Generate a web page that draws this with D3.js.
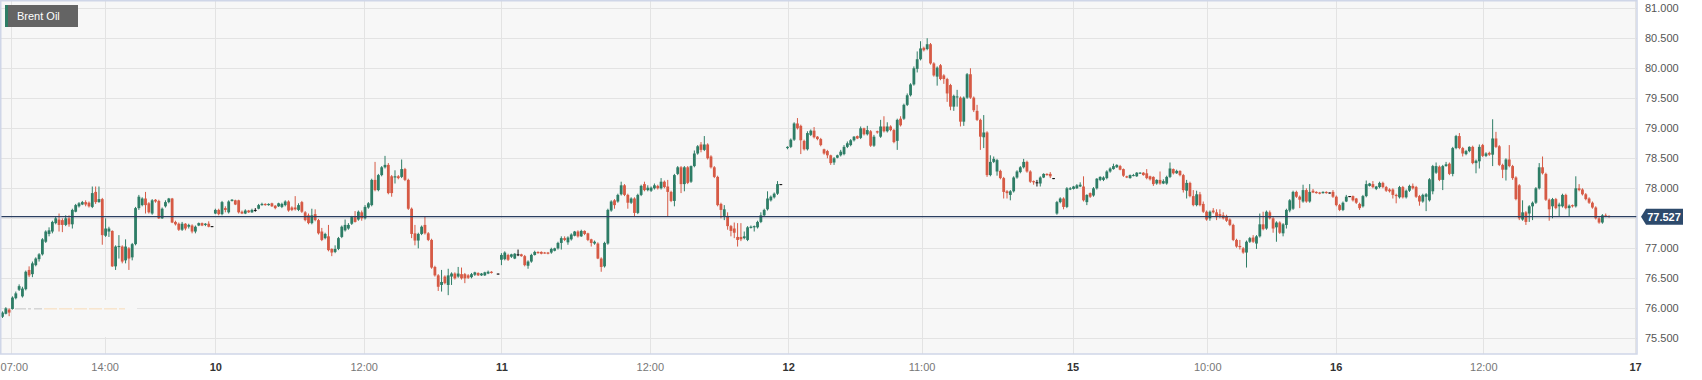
<!DOCTYPE html>
<html>
<head>
<meta charset="utf-8">
<script src="https://cdn.jsdelivr.net/npm/d3@7"></script>
<style>
  body { margin: 0; background: #fff; }
  svg { display: block; font-family: "Liberation Sans", Arial, Helvetica, sans-serif; }
</style>
</head>
<body>
<div id="chart"></div>
<script>
// 15 minute candles, [open, high, low, close], null = no trade in that slot
const day09 = [
  [75.86,75.95,75.84,75.93],[75.91,76.02,75.90,76.00],[75.98,76.00,75.87,75.93],[75.99,76.20,75.98,76.18],
  [76.17,76.28,76.15,76.25],[76.31,76.40,76.29,76.37],[76.20,76.36,76.18,76.33],[76.32,76.63,76.30,76.61],
  [76.64,76.70,76.52,76.55],[76.57,76.78,76.52,76.75],[76.72,76.85,76.70,76.83],[76.82,76.92,76.78,76.90],
  [76.90,77.17,76.88,77.15],[77.11,77.30,77.09,77.28],[77.24,77.35,77.20,77.30],[77.28,77.46,77.25,77.44],
  [77.42,77.53,77.40,77.50],[77.48,77.58,77.28,77.39],[77.47,77.50,77.27,77.39],[77.39,77.55,77.37,77.50],
  [77.50,77.55,77.36,77.40],[77.40,77.66,77.33,77.64],[77.61,77.74,77.60,77.72],[77.70,77.77,77.68,77.75],
  [77.73,77.79,77.72,77.77],[77.77,77.80,77.70,77.73],[77.76,77.78,77.68,77.70],[77.69,78.03,77.67,77.92],
  [77.94,78.03,77.74,77.77],[77.77,78.03,77.76,77.82],[77.82,77.84,77.06,77.22],[77.21,77.50,77.19,77.33],
  [77.28,77.36,77.19,77.33],[77.29,77.30,76.69,76.70],[76.70,77.05,76.64,77.03],[77.02,77.22,76.83,77.04],
  [77.03,77.05,76.75,76.78],[76.80,77.15,76.75,77.03],[77.00,77.02,76.64,76.83],[76.85,77.09,76.80,77.07],
  [77.07,77.69,77.05,77.67],[77.67,77.89,77.64,77.86],[77.72,77.85,77.70,77.83],[77.83,77.94,77.58,77.72],
  [77.75,77.77,77.58,77.60],[77.58,77.82,77.56,77.80],[77.81,77.82,77.76,77.78],[77.79,77.81,77.49,77.50],
  [77.50,77.68,77.49,77.66],[77.70,77.80,77.68,77.77],[77.77,77.84,77.75,77.83],[77.83,77.84,77.42,77.43],
  [77.44,77.46,77.38,77.40],[77.41,77.43,77.29,77.31],[77.31,77.44,77.29,77.41],[77.41,77.42,77.30,77.33],
  [77.36,77.41,77.33,77.39],[77.38,77.40,77.25,77.28],[77.28,77.38,77.25,77.36],[77.38,77.43,77.37,77.42],
  [77.42,77.43,77.37,77.38],[77.39,77.42,77.37,77.41],[77.41,77.45,77.35,77.36],[77.37,77.37,77.37,77.37]
];
const day10 = [
  [77.58,77.66,77.57,77.64],[77.64,77.66,77.55,77.57],[77.57,77.79,77.55,77.77],[77.67,77.70,77.60,77.64],
  [77.60,77.80,77.58,77.78],[77.79,77.82,77.78,77.81],[77.80,77.81,77.72,77.73],[77.80,77.81,77.58,77.60],
  [77.61,77.63,77.57,77.58],[77.58,77.65,77.57,77.63],[77.63,77.64,77.59,77.60],[77.60,77.66,77.59,77.64],
  [77.64,77.67,77.61,77.64],[77.66,77.74,77.65,77.72],[77.72,77.76,77.71,77.74],[77.74,77.75,77.71,77.72],
  [77.72,77.75,77.71,77.74],[77.75,77.76,77.69,77.70],[77.71,77.72,77.65,77.67],[77.70,77.76,77.69,77.75],
  [77.69,77.76,77.67,77.74],[77.72,77.80,77.70,77.78],[77.78,77.80,77.61,77.63],[77.68,77.70,77.62,77.64],
  [77.68,77.87,77.63,77.65],[77.64,77.75,77.62,77.72],[77.77,77.79,77.59,77.61],[77.60,77.62,77.45,77.47],
  [77.55,77.58,77.40,77.42],[77.42,77.66,77.40,77.55],[77.57,77.65,77.45,77.47],[77.47,77.49,77.23,77.25],
  [77.28,77.34,77.12,77.14],[77.17,77.26,77.15,77.24],[77.20,77.39,76.95,76.97],[76.99,77.00,76.87,76.93],
  [76.94,77.05,76.92,76.99],[76.99,77.19,76.97,77.17],[77.19,77.38,77.17,77.36],[77.30,77.48,77.28,77.39],
  [77.33,77.42,77.31,77.39],[77.41,77.54,77.39,77.52],[77.52,77.62,77.43,77.44],[77.48,77.63,77.46,77.61],
  [77.60,77.63,77.46,77.50],[77.50,77.72,77.48,77.69],[77.68,77.77,77.66,77.75],[77.72,78.16,77.70,78.14],
  [78.14,78.44,77.95,77.97],[77.97,78.24,77.95,78.22],[78.22,78.37,78.20,78.35],[78.35,78.54,78.33,78.39],
  [78.39,78.42,77.90,77.92],[78.20,78.22,77.86,77.92],[78.18,78.30,78.08,78.20],[78.20,78.22,78.15,78.17],
  [78.19,78.48,78.17,78.32],[78.32,78.34,78.12,78.14],[78.14,78.16,77.64,77.66],[77.66,77.68,77.17,77.24],
  [77.25,77.39,77.05,77.13],[77.13,77.26,77.00,77.24],[77.24,77.38,77.22,77.36],[77.39,77.53,77.23,77.25],
  [77.25,77.27,77.12,77.14],[77.14,77.16,76.66,76.68],[76.69,76.71,76.53,76.55],[76.55,76.57,76.29,76.36],
  [76.39,76.64,76.28,76.44],[76.53,76.55,76.40,76.42],[76.39,76.66,76.22,76.55],[76.53,76.60,76.39,76.58],
  [76.58,76.60,76.48,76.50],[76.53,76.69,76.51,76.58],[76.57,76.68,76.48,76.50],[76.57,76.59,76.42,76.50],
  [76.55,76.57,76.49,76.51],[76.52,76.59,76.50,76.57],[76.56,76.61,76.54,76.60],[76.59,76.60,76.54,76.55],
  [76.55,76.59,76.54,76.58],[76.55,76.61,76.54,76.60],[76.58,76.63,76.57,76.61],[76.61,76.62,76.58,76.59],
  null,[76.58,76.58,76.58,76.58]
];
const day11 = [
  [76.81,76.92,76.72,76.89],[76.82,76.95,76.80,76.93],[76.89,76.91,76.79,76.81],[76.86,76.91,76.84,76.90],
  [76.83,76.92,76.82,76.91],[76.90,76.98,76.87,76.90],[76.90,76.91,76.86,76.87],[76.87,76.89,76.70,76.72],
  [76.71,76.80,76.66,76.78],[76.78,76.91,76.76,76.89],[76.89,76.96,76.88,76.94],[76.94,76.95,76.91,76.92],
  [76.94,76.95,76.90,76.91],[76.93,76.94,76.91,76.92],[76.93,76.94,76.90,76.91],[76.93,77.01,76.91,76.99],
  [76.96,77.01,76.95,77.00],[77.00,77.11,76.98,77.09],[77.09,77.20,76.98,77.17],[77.17,77.20,77.12,77.14],
  [77.10,77.20,77.06,77.18],[77.15,77.25,77.13,77.23],[77.21,77.29,77.20,77.28],[77.28,77.30,77.18,77.20],
  [77.20,77.31,77.19,77.29],[77.29,77.30,77.22,77.24],[77.25,77.26,77.12,77.14],[77.15,77.16,77.03,77.09],
  [77.08,77.13,77.06,77.11],[77.08,77.10,76.82,76.83],[76.83,76.85,76.61,76.69],[76.70,77.11,76.68,77.09],
  [77.08,77.66,77.06,77.64],[77.63,77.80,77.61,77.78],[77.80,77.82,77.66,77.72],[77.78,77.91,77.76,77.89],
  [77.90,78.11,77.88,78.05],[78.05,78.07,77.87,77.89],[77.89,77.91,77.66,77.76],[77.76,77.85,77.74,77.83],
  [77.83,77.85,77.53,77.59],[77.59,77.91,77.57,77.89],[77.89,78.06,77.87,78.04],[78.07,78.11,77.95,77.97],
  [77.97,78.05,77.95,78.01],[77.96,78.03,77.94,78.01],[78.00,78.08,77.98,78.05],[78.04,78.06,77.98,78.00],
  [78.00,78.17,77.98,78.11],[78.11,78.13,78.00,78.02],[78.03,78.14,77.53,77.94],[77.94,77.96,77.77,77.79],
  [77.79,78.24,77.70,78.22],[78.24,78.37,78.22,78.35],[78.35,78.37,77.92,78.07],[78.07,78.37,77.95,78.35],
  [78.35,78.37,78.07,78.09],[78.11,78.38,78.09,78.37],[78.37,78.63,78.35,78.58],[78.58,78.72,78.56,78.70],
  [78.73,78.77,78.60,78.64],[78.64,78.87,78.62,78.73],[78.73,78.75,78.48,78.50],[78.53,78.55,78.33,78.35],
  [78.35,78.37,78.17,78.19],[78.19,78.21,77.70,77.72],[77.74,77.76,77.50,77.64],[77.54,77.72,77.47,77.65],
  [77.54,77.60,77.31,77.37],[77.37,77.39,77.20,77.29],[77.33,77.43,77.17,77.26],[77.19,77.42,77.03,77.14],
  [77.19,77.42,77.12,77.15],[77.17,77.28,77.15,77.20],[77.14,77.37,77.12,77.35],[77.34,77.38,77.33,77.36],
  [77.35,77.38,77.28,77.37],[77.35,77.46,77.33,77.44],[77.44,77.60,77.42,77.55],[77.55,77.66,77.53,77.64],
  [77.65,77.95,77.63,77.83],[77.80,77.88,77.78,77.86],[77.85,77.93,77.83,77.91],[77.91,78.12,77.89,78.07],
  [78.07,78.07,78.07,78.07],null
];
const day12 = [
  [78.67,78.70,78.65,78.69],[78.69,78.83,78.67,78.81],[78.81,79.10,78.79,79.08],[79.08,79.17,78.98,79.00],
  [79.04,79.06,78.57,78.80],[78.79,78.81,78.63,78.65],[78.65,78.95,78.63,78.92],[78.89,78.98,78.87,78.96],
  [78.96,79.02,78.83,78.85],[78.86,78.87,78.80,78.82],[78.82,78.84,78.70,78.72],[78.65,78.66,78.56,78.58],
  [78.62,78.64,78.50,78.55],[78.55,78.56,78.39,78.42],[78.43,78.52,78.39,78.50],[78.51,78.56,78.50,78.55],
  [78.55,78.64,78.53,78.61],[78.57,78.72,78.55,78.69],[78.69,78.78,78.67,78.75],[78.72,78.82,78.70,78.80],
  [78.80,78.87,78.78,78.86],[78.87,78.88,78.82,78.83],[78.84,79.03,78.82,79.00],[79.00,79.01,78.88,78.90],
  [78.90,79.04,78.88,78.97],[78.95,78.97,78.69,78.71],[78.71,78.89,78.69,78.86],[78.95,78.96,78.91,78.93],
  [78.86,79.14,78.84,79.03],[79.03,79.20,78.93,78.95],[78.95,79.10,78.93,79.03],[79.03,79.05,78.95,78.97],
  [78.97,78.99,78.75,78.77],[78.79,79.16,78.64,79.14],[79.16,79.20,79.03,79.05],[79.16,79.41,79.14,79.39],
  [79.39,79.58,79.37,79.55],[79.55,79.75,79.53,79.73],[79.73,80.03,79.71,80.00],[79.99,80.28,79.93,80.15],
  [80.15,80.45,80.13,80.33],[80.34,80.36,80.28,80.30],[80.32,80.50,80.30,80.40],[80.40,80.42,80.06,80.08],
  [80.08,80.10,79.86,79.88],[79.86,80.03,79.71,80.01],[80.05,80.07,79.80,79.82],[79.88,79.90,79.74,79.82],
  [79.82,79.84,79.44,79.58],[79.72,79.74,79.30,79.36],[79.36,79.56,79.29,79.54],[79.52,79.64,79.36,79.53],
  [79.51,79.53,79.03,79.11],[79.11,79.53,79.04,79.51],[79.51,79.92,79.49,79.90],[79.90,80.00,79.49,79.51],
  [79.51,79.53,79.27,79.30],[79.29,79.39,79.12,79.14],[79.14,79.16,78.64,78.86],[78.85,79.22,78.67,78.93],
  [78.93,78.95,78.19,78.22],[78.22,78.55,78.20,78.44],[78.44,78.53,78.42,78.49],[78.28,78.49,78.21,78.47],
  [78.29,78.31,78.15,78.17],[78.17,78.19,77.83,77.94],[77.95,77.97,77.83,77.92],[77.89,77.97,77.80,77.95],
  [77.95,78.20,77.93,78.18],[78.18,78.30,78.16,78.28],[78.27,78.37,78.25,78.35],[78.35,78.49,78.33,78.44],
  [78.44,78.46,78.26,78.28],[78.28,78.30,78.09,78.11],[78.12,78.13,78.06,78.10],[78.10,78.14,78.03,78.10],
  [78.08,78.20,78.03,78.18],[78.18,78.25,78.17,78.24],[78.24,78.25,78.21,78.22],[78.24,78.27,78.17,78.20],
  [78.17,78.17,78.17,78.17]
];
const day15 = [
  [77.58,77.79,77.56,77.77],[77.77,77.85,77.75,77.83],[77.83,77.85,77.65,77.69],[77.69,78.02,77.67,78.00],
  [77.98,78.02,77.97,78.00],[77.99,78.04,77.98,78.03],[78.00,78.07,77.99,78.05],[78.03,78.10,78.02,78.06],
  [78.03,78.20,77.78,77.80],[77.77,77.90,77.72,77.89],[77.92,77.93,77.84,77.86],[77.88,78.02,77.86,78.00],
  [78.00,78.17,77.98,78.16],[78.14,78.20,78.12,78.19],[78.14,78.20,78.12,78.18],[78.17,78.30,78.15,78.28],
  [78.28,78.35,78.26,78.33],[78.32,78.41,78.31,78.37],[78.35,78.40,78.34,78.39],[78.37,78.39,78.30,78.31],
  [78.32,78.33,78.19,78.21],[78.20,78.21,78.17,78.18],[78.17,78.23,78.16,78.22],[78.21,78.24,78.20,78.22],
  [78.20,78.27,78.19,78.26],[78.25,78.27,78.24,78.26],[78.26,78.27,78.21,78.22],[78.25,78.32,78.15,78.17],
  [78.20,78.21,78.13,78.15],[78.19,78.20,78.04,78.07],[78.08,78.15,78.06,78.14],[78.14,78.28,78.06,78.08],
  [78.08,78.15,78.07,78.12],[78.08,78.21,78.06,78.19],[78.19,78.43,78.17,78.33],[78.32,78.33,78.23,78.25],
  [78.25,78.31,78.24,78.29],[78.29,78.30,78.20,78.22],[78.22,78.24,77.93,77.97],[77.96,78.14,77.83,78.09],
  [78.09,78.11,77.85,77.87],[77.87,77.97,77.70,77.72],[77.72,77.96,77.70,77.90],[77.90,77.94,77.70,77.72],
  [77.74,77.78,77.59,77.61],[77.61,77.63,77.46,77.48],[77.50,77.63,77.46,77.61],[77.63,77.67,77.58,77.60],
  [77.60,77.65,77.47,77.52],[77.57,77.65,77.50,77.54],[77.55,77.60,77.48,77.50],[77.54,77.56,77.44,77.46],
  [77.48,77.50,77.37,77.39],[77.39,77.41,77.12,77.14],[77.14,77.16,77.01,77.03],[77.04,77.14,76.98,77.02],
  [77.00,77.02,76.91,76.93],[76.93,77.13,76.68,77.11],[77.11,77.19,77.09,77.17],[77.18,77.22,77.09,77.11],
  [77.08,77.22,76.99,77.20],[77.20,77.58,77.18,77.40],[77.40,77.61,77.30,77.32],[77.33,77.63,77.31,77.61],
  [77.60,77.63,77.48,77.50],[77.50,77.52,77.26,77.33],[77.35,77.45,77.11,77.43],[77.43,77.45,77.24,77.26],
  [77.25,77.42,77.20,77.40],[77.39,77.66,77.33,77.64],[77.63,77.82,77.60,77.80],[77.66,77.96,77.64,77.94],
  [77.94,77.96,77.84,77.86],[77.86,77.88,77.67,77.81],[77.78,78.06,77.76,77.97],[77.97,78.00,77.76,77.78],
  [77.78,78.07,77.76,77.94],[77.96,77.99,77.92,77.93],[77.94,77.95,77.91,77.92],[77.93,77.94,77.90,77.91],
  [77.92,77.95,77.91,77.94],[77.94,77.95,77.91,77.92],[77.93,77.93,77.93,77.93],[77.94,77.97,77.84,77.86]
];
const day16 = [
  [77.86,77.88,77.70,77.72],[77.72,77.74,77.62,77.64],[77.64,77.78,77.62,77.76],[77.78,77.89,77.77,77.86],
  [77.87,77.87,77.87,77.87],[77.87,77.88,77.78,77.80],[77.83,77.84,77.74,77.76],[77.74,77.76,77.64,77.67],
  [77.70,77.89,77.68,77.87],[77.87,78.13,77.85,78.07],[78.04,78.09,78.03,78.08],[78.07,78.12,78.00,78.02],
  [77.99,78.04,77.97,78.03],[78.02,78.11,78.00,78.09],[78.09,78.11,78.00,78.02],[78.02,78.04,77.94,77.96],
  [77.98,78.00,77.93,77.95],[77.98,78.00,77.83,77.89],[77.89,77.91,77.75,77.87],[77.85,78.04,77.83,78.02],
  [78.02,78.04,77.83,77.85],[77.85,77.98,77.83,77.96],[77.96,78.06,77.94,78.04],[78.04,78.08,77.98,78.00],
  [78.02,78.04,77.84,77.86],[77.87,77.89,77.71,77.78],[77.78,77.91,77.76,77.89],[77.86,77.92,77.62,77.90],
  [77.80,78.17,77.78,78.15],[77.95,78.39,77.90,78.37],[78.26,78.43,78.24,78.37],[78.36,78.38,78.12,78.14],
  [78.14,78.39,77.97,78.37],[78.37,78.44,78.36,78.40],[78.41,78.43,78.22,78.24],[78.24,78.69,78.20,78.67],
  [78.67,78.89,78.65,78.87],[78.87,78.92,78.65,78.67],[78.67,78.69,78.53,78.58],[78.57,78.64,78.55,78.62],
  [78.62,78.70,78.60,78.69],[78.69,78.71,78.40,78.42],[78.42,78.48,78.25,78.46],[78.45,78.73,78.33,78.69],
  [78.72,78.74,78.52,78.54],[78.54,78.60,78.52,78.58],[78.59,78.61,78.54,78.56],[78.56,79.15,78.37,78.83],
  [78.83,78.94,78.67,78.69],[78.70,78.72,78.37,78.39],[78.39,78.41,78.17,78.31],[78.31,78.50,78.13,78.48],
  [78.48,78.72,78.35,78.37],[78.37,78.39,78.14,78.17],[78.18,78.20,77.80,77.82],[78.05,78.07,77.47,77.50],
  [77.48,77.80,77.46,77.60],[77.60,77.62,77.39,77.44],[77.58,77.72,77.44,77.70],[77.70,77.78,77.47,77.76],
  [77.76,78.02,77.74,78.00],[78.00,78.42,77.98,78.35],[78.35,78.53,78.23,78.25],[78.24,78.26,77.79,77.81],
  [77.81,77.83,77.46,77.65],[77.70,77.84,77.50,77.82],[77.82,77.84,77.65,77.67],[77.70,77.76,77.53,77.73],
  [77.70,77.91,77.68,77.89],[77.89,77.91,77.65,77.67],[77.67,77.73,77.53,77.71],[77.72,77.73,77.68,77.70],
  [77.70,78.20,77.68,78.00],[78.00,78.07,77.95,77.97],[77.98,78.00,77.88,77.90],[77.90,77.92,77.80,77.82],
  [77.83,77.85,77.74,77.76],[77.76,77.78,77.66,77.68],[77.68,77.70,77.48,77.50],[77.50,77.52,77.41,77.43],
  [77.43,77.57,77.41,77.55],[77.55,77.58,77.52,77.53],[77.54,77.55,77.51,77.53]
];

const tickLabels = ["07:00","14:00","10","12:00","11","12:00","12","11:00","15","10:00","16","12:00","17"];
const tickSlots  = [2.5, 30.7, 64, 108.6, 150, 194.6, 236.2, 276.3, 321.7, 362.2, 400.8, 445.2, 490.8];
const dayTicks   = ["10","11","12","15","16","17"];
const priceTicks = [75.5,76,76.5,77,77.5,78,78.5,79,79.5,80,80.5,81];
const lastPrice = 77.527;
const seriesName = "Brent Oil";

const W = 1702, H = 380;
const plotW = 1637, plotH = 354;
const upColor = "#2e7d66", downColor = "#d65a45";

// flatten days into one slot sequence
const candles = [];
let slot = 0;
[day09, day10, day11, day12, day15, day16].forEach(day => {
  day.forEach(c => {
    if (c) candles.push({slot: slot, o: c[0], h: c[1], l: c[2], c: c[3]});
    slot++;
  });
});

const svg = d3.select("#chart").append("svg")
  .attr("width", W)
  .attr("height", H);

const x = d3.scaleLinear().domain([-0.75, 491.4]).range([0, plotW]);
const y = d3.scaleLinear().domain([75.24, 81.12]).range([plotH, 1]);

svg.append("rect")
  .attr("x", 0).attr("y", 0)
  .attr("width", plotW).attr("height", plotH)
  .attr("fill", "#f7f7f7");

// grid
svg.append("g").selectAll("line").data(priceTicks).enter().append("line")
  .attr("x1", 0).attr("x2", plotW)
  .attr("y1", d => Math.round(y(d)) + 0.5).attr("y2", d => Math.round(y(d)) + 0.5)
  .attr("stroke", "#e3e3e3");

svg.append("g").selectAll("line").data(tickSlots).enter().append("line")
  .attr("x1", d => Math.round(x(d)) + 0.5).attr("x2", d => Math.round(x(d)) + 0.5)
  .attr("y1", 0).attr("y2", plotH)
  .attr("stroke", "#e3e3e3");

// leftover dashed marker bottom left
svg.append("rect")
  .attr("x", 12).attr("y", 300).attr("width", 125).attr("height", 37)
  .attr("fill", "#f7f7f7");
svg.append("line")
  .attr("x1", 15).attr("x2", 42).attr("y1", y(76) + 0.5).attr("y2", y(76) + 0.5)
  .attr("stroke", "#c4c4c4").attr("stroke-dasharray", "11,2,3,3");
svg.append("line")
  .attr("x1", 44).attr("x2", 125).attr("y1", y(76) + 0.5).attr("y2", y(76) + 0.5)
  .attr("stroke", "#f8dcb8").attr("stroke-dasharray", "13,2");

// candles
const cg = svg.append("g");
const col = d => d.c > d.o ? upColor : (d.c < d.o ? downColor : "#111");

cg.selectAll("line").data(candles).enter().append("line")
  .attr("x1", d => x(d.slot)).attr("x2", d => x(d.slot))
  .attr("y1", d => y(d.h)).attr("y2", d => Math.max(y(d.l), y(d.h) + 1))
  .attr("stroke", col)
  .attr("stroke-width", 1);

cg.selectAll("rect").data(candles).enter().append("rect")
  .attr("x", d => x(d.slot) - 1.4)
  .attr("width", 2.8)
  .attr("y", d => y(Math.max(d.o, d.c)))
  .attr("height", d => Math.max(1, Math.abs(y(d.o) - y(d.c))))
  .attr("fill", col);

// last price line
svg.append("line")
  .attr("x1", 0).attr("x2", plotW)
  .attr("y1", y(lastPrice)).attr("y2", y(lastPrice))
  .attr("stroke", "#2b3f61").attr("stroke-width", 1.3);

// frame
svg.append("rect")
  .attr("x", 0.75).attr("y", 0.75)
  .attr("width", plotW - 0.75).attr("height", plotH - 0.75)
  .attr("fill", "none")
  .attr("stroke", "#cfd6e8").attr("stroke-width", 1.5);

// y axis
const yAxis = svg.append("g")
  .attr("transform", `translate(${plotW},0)`)
  .call(d3.axisRight(y).tickValues(priceTicks).tickFormat(d3.format(".3f")).tickSize(0).tickPadding(8));
yAxis.select(".domain").remove();
yAxis.selectAll("text")
  .attr("fill", "#555")
  .style("font-size", "11px")
  .style("font-family", "'Liberation Sans', Arial, sans-serif");

// x axis
const xAxis = svg.append("g")
  .attr("transform", `translate(0,${plotH})`)
  .call(d3.axisBottom(x).tickValues(tickSlots).tickFormat((d, i) => tickLabels[i]).tickSize(0).tickPadding(9));
xAxis.select(".domain").remove();
xAxis.selectAll("text")
  .style("font-size", "11px")
  .style("font-family", "'Liberation Sans', Arial, sans-serif")
  .attr("fill", (d, i) => dayTicks.includes(tickLabels[i]) ? "#333" : "#777")
  .style("font-weight", (d, i) => dayTicks.includes(tickLabels[i]) ? "bold" : "normal")
  .each(function(d) {
    const half = this.getComputedTextLength() / 2;
    if (x(d) - half < 0) d3.select(this).attr("x", half - x(d));
  });

// price tag
const py = y(lastPrice);
svg.append("path")
  .attr("d", `M1641,${py} L1646,${py - 8} L1683,${py - 8} L1683,${py + 8} L1646,${py + 8} Z`)
  .attr("fill", "#2d4a6c");
svg.append("text")
  .attr("x", 1664).attr("y", py)
  .attr("dy", "0.35em")
  .attr("text-anchor", "middle")
  .attr("fill", "#fff")
  .style("font-size", "11px")
  .style("font-weight", "bold")
  .text(d3.format(".3f")(lastPrice));

// legend
const lg = svg.append("g");
lg.append("rect").attr("x", 5).attr("y", 5).attr("width", 73).attr("height", 22).attr("fill", "#646464");
lg.append("rect").attr("x", 5).attr("y", 5).attr("width", 3).attr("height", 22).attr("fill", upColor);
lg.append("text").attr("x", 17).attr("y", 20)
  .attr("fill", "#fff")
  .style("font-size", "11px")
  .text(seriesName);
</script>
</body>
</html>
